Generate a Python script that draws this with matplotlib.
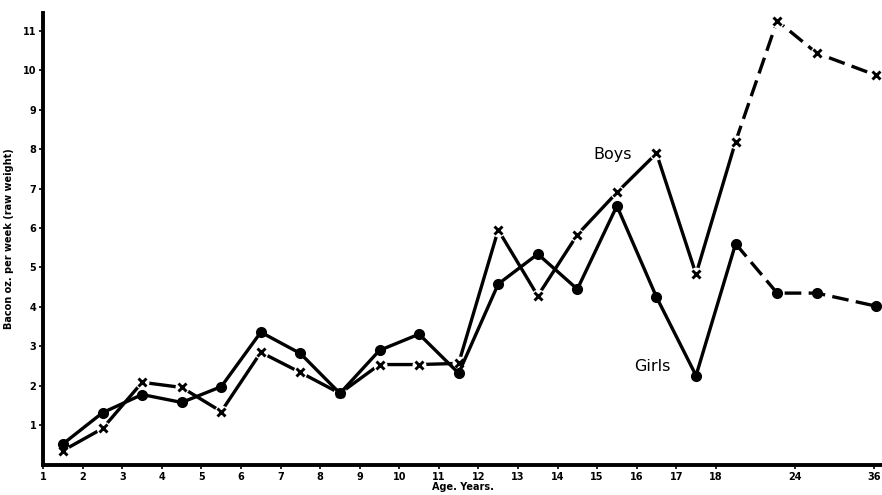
import matplotlib.pyplot as plt

# age groups (x position on the chart's stretched age scale)
age_pos = [1.5, 2.5, 3.5, 4.5, 5.5, 6.5, 7.5, 8.5, 9.5, 10.5, 11.5, 12.5,
           13.5, 14.5, 15.5, 16.5, 17.5, 18.5, 19.55, 20.55, 22.05]
girls = [0.53, 1.32, 1.78, 1.58, 1.98, 3.36, 2.82, 1.81, 2.9, 3.31, 2.32,
         4.58, 5.34, 4.45, 6.56, 4.25, 2.26, 5.6, 4.35, 4.35, 4.02]
boys = [0.36, 0.92, 2.09, 1.96, 1.35, 2.85, 2.34, 1.81, 2.54, 2.54, 2.57,
        5.95, 4.28, 5.83, 6.9, 7.89, 4.83, 8.19, 11.25, 10.43, 9.87]
n_solid = 18  # points up to 18.5 joined by solid lines, after that dashed

tick_pos = list(range(1, 19)) + [20, 22]
tick_labels = [str(i) for i in range(1, 19)] + ['24', '36']

fig = plt.figure(figsize=(8.82, 4.95), dpi=100)
ax = fig.add_axes([0.049, 0.061, 0.951, 0.913])

dash = (0, (5, 2.2))
lw = 2.4
# boys
ax.plot(age_pos[:n_solid], boys[:n_solid], color='black', lw=lw, zorder=2)
ax.plot(age_pos[n_solid - 1:], boys[n_solid - 1:], color='black', lw=lw,
        linestyle=dash, zorder=2, clip_on=False)
# small white gap where the boys line meets its crosses
ax.plot(age_pos, boys, linestyle='none', marker='o', ms=10, mfc='white',
        mec='none', zorder=3, clip_on=False)
# girls
ax.plot(age_pos[:n_solid], girls[:n_solid], color='black', lw=lw, zorder=4)
ax.plot(age_pos[n_solid - 1:], girls[n_solid - 1:], color='black', lw=lw,
        linestyle=dash, zorder=4, clip_on=False)
ax.plot(age_pos, girls, linestyle='none', marker='o', ms=7, color='black',
        zorder=5, clip_on=False)
ax.plot(age_pos, boys, linestyle='none', marker='x', ms=6, mew=2.1,
        color='black', zorder=6, clip_on=False)

ax.text(15.4, 7.85, 'Boys', fontsize=11.5, ha='center', va='center',
        family='DejaVu Sans')
ax.text(16.4, 2.5, 'Girls', fontsize=11.5, ha='center', va='center',
        family='DejaVu Sans')

ax.set_xlim(1, 22.2)
ax.set_ylim(0, 11.45)
ax.set_xticks(tick_pos)
ax.set_xticklabels(tick_labels, fontsize=7, fontweight='bold')
ax.set_yticks(range(1, 12))
ax.set_yticklabels([str(i) for i in range(1, 12)], fontsize=7, fontweight='bold')
ax.tick_params(axis='both', length=3, width=1.2, pad=2)

for side in ['top', 'right']:
    ax.spines[side].set_visible(False)
for side in ['left', 'bottom']:
    ax.spines[side].set_linewidth(2.8)

ax.set_xlabel('Age. Years.', fontsize=7, fontweight='bold', labelpad=0)
ax.set_ylabel('Bacon oz. per week (raw weight)', fontsize=7,
              fontweight='bold', labelpad=6)

fig.savefig('out.png', dpi=100)
